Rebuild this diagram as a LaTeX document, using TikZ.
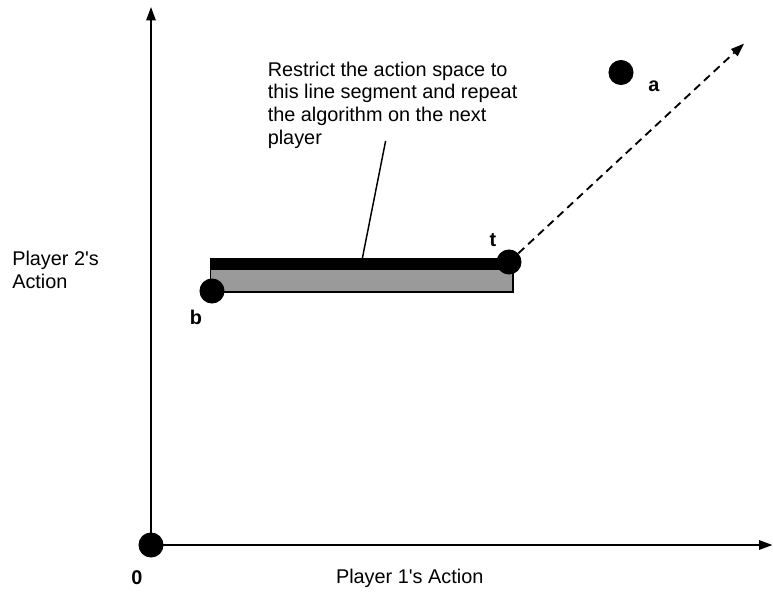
\documentclass[tikz,border=0pt]{standalone}
\usepackage{fontspec}
\setmainfont{Liberation Sans}[Ligatures=TeXOff]
\usetikzlibrary{arrows.meta}
\definecolor{bargray}{HTML}{9A9A9A}
\tikzset{
  dot/.style={circle,fill=black,draw=none,minimum size=18.8pt,inner sep=0pt},
  axisline/.style={line width=1.3pt,-{Triangle[length=10pt,width=7pt]}},
  dashline/.style={line width=1.4pt,dash pattern=on 6pt off 4pt,-{Triangle[length=10pt,width=7pt]}},
  leader/.style={line width=1.1pt},
  lbl/.style={font=\fontsize{14.9}{17}\selectfont,inner sep=0pt},
  blbl/.style={font=\fontsize{14.9}{17}\selectfont\bfseries,inner sep=0pt},
}
\begin{document}
\begin{tikzpicture}[x=0.75pt,y=-0.75pt]
\useasboundingbox (0,0) rectangle (773,594);
% region
\draw[fill=bargray,line width=1.1pt] (210.5,262) rectangle (513,292);
\fill[black] (209.5,257.5) rectangle (509,270);
% dots
\node[dot] (o) at (151,545) {};
\node[dot] (t) at (509,262) {};
\node[dot] (b) at (212,291) {};
\node[dot] (a) at (621,72.5) {};
% axis ends
\coordinate (yend) at (151,7);
\coordinate (xend) at (772.5,545);
\coordinate (dend) at (744,43.6);
\draw[axisline] (o.center) -- (yend);
\draw[axisline] (o.center) -- (xend);
\draw[dashline] (t) -- (dend);
% labels
\node[blbl] (l0) at (137,578) {0};
\node[blbl] (la) at (654,86) {a};
\node[blbl] (lb) at (196,317) {b};
\node[blbl] (lt) at (493,240) {t};
\node[lbl] (xl) at (409.7,578) {Player 1's Action};
\node[lbl,align=left,anchor=north west] (yl) at (12,251) {Player 2's\\Action};
\node[lbl,align=left,anchor=north west] (note) at (267.5,61.5) {Restrict the action space to\\this line segment and repeat\\the algorithm on the next\\player};
\coordinate (ltop) at (385.6,141);
\coordinate (lbot) at (362.4,258);
\draw[leader] (ltop) -- (lbot);
\end{tikzpicture}
\end{document}
